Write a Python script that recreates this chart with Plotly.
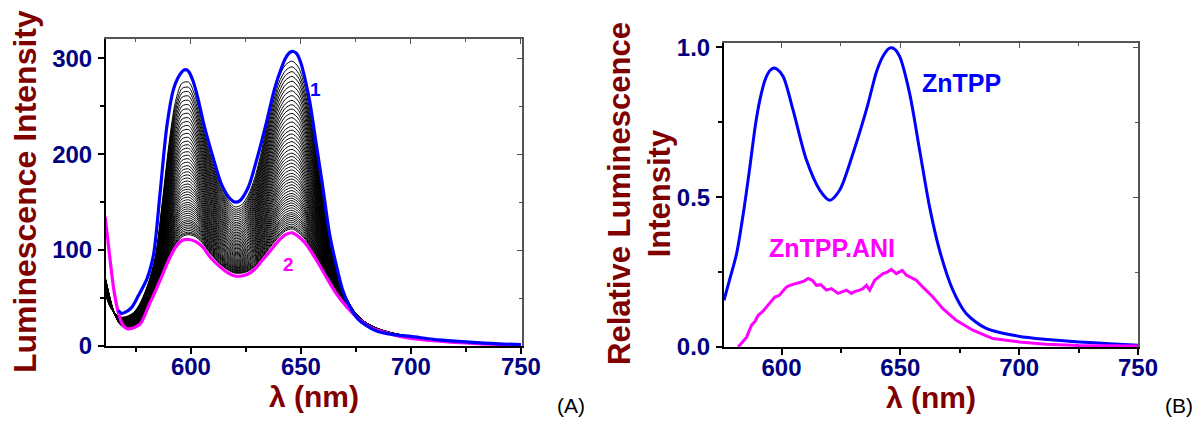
import plotly.graph_objects as go

# ---------------- Panel A data ----------------
# curve 1 (blue, top)
lam_blue_A = [567, 568.5, 570, 573, 576, 580, 583, 586, 589, 592, 594, 596, 597.5, 599, 601, 603,
              606, 610, 614, 618, 620, 622, 626, 630, 634, 638, 641, 643, 645, 646.5, 648, 650,
              652, 654, 657, 660, 663, 666, 669, 672, 676, 680, 685, 690, 695, 700, 710, 720,
              730, 740, 750]
int_blue_A = [37, 34, 35, 40, 52, 70, 95, 160, 228, 267, 279, 286, 288, 286, 276, 260,
              230, 197, 168, 153, 150, 151, 165, 195, 230, 268, 289, 300, 306, 307, 305, 295,
              277, 255, 210, 165, 117, 85, 58, 42, 28, 21, 15, 12.5, 11, 10, 7, 5,
              3.5, 2.2, 1.5]

# common wavelength grid for curve 2 and the black titration family
lam_A = [561, 563, 565, 567, 569, 571, 574, 577, 581, 584, 587, 590, 593, 596, 599, 602,
         605, 609, 613, 617, 620, 623, 626, 629, 632, 636, 640, 643, 646, 649, 652, 655,
         658, 662, 666, 670, 674, 678, 683, 690, 695, 700, 710, 720, 730, 740, 750]
# curve 2 (magenta, bottom)
int_mag_A = [135, 95, 58, 35, 22, 18, 19, 23, 43, 58, 74, 90, 103, 110, 111, 109,
             104, 92, 83, 76, 73, 73, 75, 80, 88, 99, 110, 116, 118, 114, 107, 97,
             86, 70, 55, 43, 33, 25, 18, 13, 10, 8, 5.5, 3.8, 2.5, 1.6, 1]
# highest and lowest black curves
int_black_top = [55, 42, 35, 31, 30, 31, 35, 45, 68, 95, 150, 210, 255, 274, 275, 260,
                 234, 198, 170, 152, 145, 147, 157, 175, 202, 245, 280, 293, 297, 290, 268, 232,
                 186, 125, 82, 54, 37, 27, 20, 14.5, 12, 10, 6.8, 4.6, 3.2, 2.1, 1.4]
int_black_bot = [72, 52, 35, 25, 20, 19, 20, 25, 46, 61, 77, 93, 106, 114, 116, 114,
                 108, 96, 86, 79, 76, 76, 78, 83, 91, 103, 114, 120, 122, 118, 111, 100,
                 89, 73, 58, 45, 35, 27, 19.5, 14, 11, 9, 6, 4, 2.7, 1.8, 1.1]
# intensity at 646 nm of each black spectrum in the titration series
black_peaks_646 = [297, 291, 286, 281, 276, 271, 266, 261, 256, 251.5, 247, 242.5, 238, 233.5,
                   229, 225, 221, 217, 213, 209, 205, 201, 197.5, 194, 190.5, 187, 183.5, 180,
                   177, 174, 171, 168, 165, 162, 159, 156.5, 154, 151.5, 149, 146.5, 144, 141.5,
                   139, 137, 135, 133, 131, 129, 127, 125, 123.5, 122]

# ---------------- Panel B data ----------------
lam_B_zn = [575.8, 578, 581.1, 584, 586.7, 589, 590.9, 593, 595, 596.5, 598, 600.7, 604.9, 610.5,
            616.1, 620.3, 624.5, 630.1, 636, 640, 643, 645.5, 647.5, 649.7, 653.9, 658.1,
            662.3, 666.5, 672.1, 677.7, 686.1, 699.7, 712, 725.3, 738, 750]
rel_B_zn = [0.156, 0.22, 0.312, 0.45, 0.602, 0.74, 0.825, 0.89, 0.922, 0.931, 0.928, 0.903, 0.79,
            0.624, 0.524, 0.49, 0.524, 0.647, 0.80, 0.92, 0.975, 0.998, 0.995, 0.97, 0.847,
            0.658, 0.468, 0.323, 0.19, 0.112, 0.062, 0.036, 0.025, 0.017, 0.011, 0.006]
lam_B_ani = [581.8, 583.5, 585.3, 587.4, 588.8, 590.2, 592, 593.7, 595.5, 597.2, 599, 600.7,
             602, 603.5, 605.5, 607.7, 609.5, 611.2, 613, 614.7, 616.5, 618.9, 621, 623.8,
             625.5, 627.3, 629.4, 631, 632.9, 634.3, 635.7, 637.1, 639.2, 641, 642.7, 644.5,
             646.2, 648.3, 650.8, 652.5, 653.9, 656.7, 659.5, 663.7, 667.9, 673.5, 680.5,
             688.9, 700.1, 711.3, 725, 737, 750]
rel_B_ani = [0.0, 0.015, 0.033, 0.073, 0.085, 0.106, 0.118, 0.134, 0.15, 0.167, 0.172, 0.19,
             0.2, 0.206, 0.21, 0.217, 0.22, 0.229, 0.222, 0.206, 0.208, 0.19, 0.195, 0.179,
             0.185, 0.19, 0.179, 0.186, 0.19, 0.195, 0.206, 0.19, 0.223, 0.235, 0.245, 0.25,
             0.259, 0.245, 0.256, 0.24, 0.234, 0.223, 0.2, 0.167, 0.128, 0.089, 0.056,
             0.028, 0.017, 0.009, 0.005, 0.004, 0.003]

# ---------------- style ----------------
NAVY = "#000080"
MAROON = "#800000"
FONT = "Liberation Sans, Arial, sans-serif"

fig = go.Figure()

# black titration family
p_top, p_bot = black_peaks_646[0], black_peaks_646[-1]
for p in black_peaks_646:
    f = (p - p_bot) / (p_top - p_bot)
    ys = [b + f * (t - b) for t, b in zip(int_black_top, int_black_bot)]
    fig.add_trace(go.Scatter(x=lam_A, y=ys, mode="lines",
                             line=dict(color="black", width=1, shape="spline", smoothing=0.8),
                             xaxis="x", yaxis="y", showlegend=False, hoverinfo="skip"))

fig.add_trace(go.Scatter(x=lam_A, y=int_mag_A, mode="lines",
                         line=dict(color="#ff00ff", width=3.2, shape="spline", smoothing=0.8),
                         xaxis="x", yaxis="y", showlegend=False))
fig.add_trace(go.Scatter(x=lam_blue_A, y=int_blue_A, mode="lines",
                         line=dict(color="#0000ff", width=3.2, shape="spline", smoothing=0.8),
                         xaxis="x", yaxis="y", showlegend=False))

fig.add_trace(go.Scatter(x=lam_B_zn, y=rel_B_zn, mode="lines",
                         line=dict(color="#0000ff", width=3, shape="spline", smoothing=0.8),
                         xaxis="x2", yaxis="y2", showlegend=False))
fig.add_trace(go.Scatter(x=lam_B_ani, y=rel_B_ani, mode="lines", line=dict(color="#ff00ff", width=3),
                         xaxis="x2", yaxis="y2", showlegend=False))

# dummy traces for mirror axes
fig.add_trace(go.Scatter(x=[], y=[], xaxis="x3", yaxis="y3", showlegend=False))
fig.add_trace(go.Scatter(x=[], y=[], xaxis="x4", yaxis="y4", showlegend=False))

# page body has an 8px margin: figure is drawn from (8, 8); keep it inside the window
OFF = 8
W, H = 1203 - 2 * OFF, 426 - 2 * OFF

def px(x):
    return (x - OFF) / W

def py(y):
    return 1 - (y - OFF) / H

dA = [px(106), px(522)]
dB = [px(724), px(1138)]
yA = [py(346), py(39)]
yB = [py(347), py(43)]
xrA = [561.4, 750.5]
xrB = [575.8, 750]
yrA = [0, 320]
yrB = [0, 1.015]

tickf = dict(family=FONT, size=24, color=NAVY, weight="bold")
titf = dict(family=FONT, size=30, color=MAROON, weight="bold")

def main_axis(rng, dom, dtick, anchor, title, standoff, minor_dtick, lab_standoff):
    return dict(domain=dom, range=rng, anchor=anchor, dtick=dtick, tick0=0, automargin=False,
                showline=True, linecolor="black", linewidth=2, ticks="outside",
                ticklen=6, tickwidth=1.5, tickcolor="black", tickfont=tickf,
                ticklabelstandoff=lab_standoff,
                minor=dict(dtick=minor_dtick, tick0=0, ticks="outside", ticklen=4, tickwidth=1.5, tickcolor="black"),
                showgrid=False, zeroline=False, mirror=False,
                title=dict(text=title, font=titf, standoff=standoff))

def mirror_axis(rng, dtick, overlay, side, minor_dtick):
    return dict(range=rng, overlaying=overlay, side=side, dtick=dtick, tick0=0, automargin=False,
                showline=True, linecolor="#555555", linewidth=1.5, ticks="inside",
                ticklen=5, tickwidth=1.2, tickcolor="#555555", showticklabels=False,
                minor=dict(dtick=minor_dtick, tick0=0, ticks="inside", ticklen=3, tickwidth=1.2, tickcolor="#555555"),
                showgrid=False, zeroline=False)

fig.update_layout(
    width=W, height=H,
    margin=dict(l=0, r=0, t=0, b=0, autoexpand=False),
    plot_bgcolor="white", paper_bgcolor="white",
    showlegend=False,
    xaxis=main_axis(xrA, dA, 50, "y", "λ (nm)", 0, 25, -8),
    yaxis=main_axis(yrA, yA, 100, "x", "", 0, 50, 1),
    xaxis2=main_axis(xrB, dB, 50, "y2", "λ (nm)", 0, 25, -8),
    yaxis2=main_axis(yrB, yB, 0.5, "x2", "", 0, 0.25, 1),
)
fig.layout.yaxis2.tickformat = ".1f"
fig.update_layout(
    xaxis3=dict(mirror_axis(xrA, 50, "x", "top", 25), anchor="y"),
    yaxis3=dict(mirror_axis(yrA, 100, "y", "right", 50), anchor="x"),
    xaxis4=dict(mirror_axis(xrB, 50, "x2", "top", 25), anchor="y2"),
    yaxis4=dict(mirror_axis(yrB, 0.5, "y2", "right", 0.25), anchor="x2"),
)
fig.layout.xaxis3.update(domain=dA)
fig.layout.xaxis4.update(domain=dB)
fig.layout.yaxis3.update(domain=yA)
fig.layout.yaxis4.update(domain=yB)

# y-axis titles (rotated), placed precisely
fig.add_annotation(text="Luminescence Intensity", textangle=-90, xref="paper", yref="paper",
                   x=px(25), y=py(192), xanchor="center", yanchor="middle", showarrow=False,
                   font=dict(family=FONT, size=32, color=MAROON, weight="bold"))
fig.add_annotation(text="Relative Luminescence<br>Intensity", textangle=-90, xref="paper", yref="paper",
                   x=px(640), y=py(194), xanchor="center", yanchor="middle", showarrow=False,
                   font=dict(family=FONT, size=31, color=MAROON, weight="bold"))

ann = [
    dict(text="1", x=316, y=90, color="#0000ff", size=19, bold=True),
    dict(text="2", x=288, y=264, color="#ff00ff", size=19, bold=True),
    dict(text="ZnTPP", x=961, y=83, color="#0000ff", size=25, bold=True),
    dict(text="ZnTPP.ANI", x=832, y=248, color="#ff00ff", size=25, bold=True),
    dict(text="(A)", x=571, y=405, color="black", size=21, bold=False),
    dict(text="(B)", x=1179, y=405, color="black", size=21, bold=False),
]
for a in ann:
    fig.add_annotation(text=a["text"], xref="paper", yref="paper", x=px(a["x"]), y=py(a["y"]),
                       xanchor="center", yanchor="middle", showarrow=False,
                       font=dict(family=FONT, size=a["size"], color=a["color"],
                                 weight="bold" if a["bold"] else "normal"))

fig.write_html("out.html")
